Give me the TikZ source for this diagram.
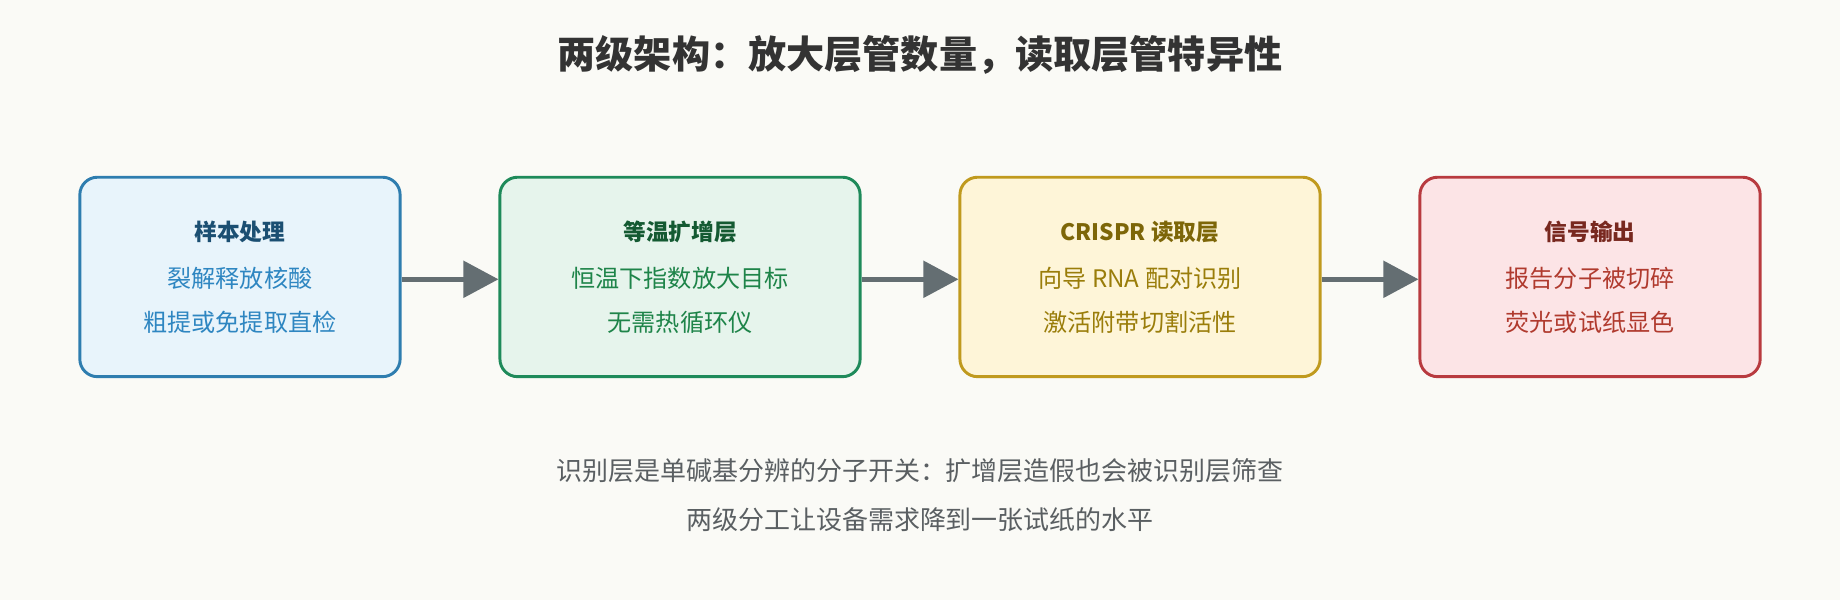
\documentclass[tikz,border=0pt]{standalone}
\usepackage{fontspec}
\setmainfont{Noto Sans CJK SC}
\usetikzlibrary{arrows.meta}
\definecolor{bgc}{HTML}{FAFAF6}
\definecolor{arrowc}{HTML}{646E72}
\definecolor{noteC}{HTML}{5A5F62}
\definecolor{prepD}{HTML}{2E7DAF}\definecolor{prepF}{HTML}{E8F4FB}\definecolor{prepT}{HTML}{2E86C1}\definecolor{prepH}{HTML}{1B4F72}
\definecolor{ampD}{HTML}{1E8A5A}\definecolor{ampF}{HTML}{E6F4EC}\definecolor{ampT}{HTML}{1E8449}\definecolor{ampH}{HTML}{145A32}
\definecolor{readD}{HTML}{C09A1E}\definecolor{readF}{HTML}{FEF5D8}\definecolor{readT}{HTML}{9A7D0A}\definecolor{readH}{HTML}{7D6608}
\definecolor{outD}{HTML}{B83A3F}\definecolor{outF}{HTML}{FCE4E6}\definecolor{outT}{HTML}{B03A2E}\definecolor{outH}{HTML}{78281F}
\tikzset{
  stage/.style={draw=#1D,fill=#1F,text=#1T,line width=0.05cm,rounded corners=0.3cm,
    minimum height=3.4cm,align=center,font=\fontsize{11.7}{21}\selectfont},
  flow/.style={draw=arrowc,line width=0.08cm,-{Triangle[length=0.6cm,width=0.62cm]}},
}
\begin{document}
\begin{tikzpicture}[x=0.02cm,y=-0.02cm]
    \fill[bgc] (0,0) rectangle (1568,511);
    \useasboundingbox (0,0) rectangle (1568,511);

    \node[font=\bfseries\fontsize{18.5}{24}\selectfont,text=black!80] (title) at (784,47) {两级架构：放大层管数量，读取层管特异性};

    \node[stage=prep,minimum width=5.46cm] (prep) at (204.5,236)
        {\textcolor{prepH}{\bfseries\fontsize{11}{21}\selectfont 样本处理}\\[2pt]裂解释放核酸\\粗提或免提取直检};
    \node[stage=amp,minimum width=6.14cm] (amp) at (579.5,236)
        {\textcolor{ampH}{\bfseries\fontsize{11}{21}\selectfont 等温扩增层}\\[2pt]恒温下指数放大目标\\无需热循环仪};
    \node[stage=read,minimum width=6.14cm] (read) at (971.5,236)
        {\textcolor{readH}{\bfseries\fontsize{11}{21}\selectfont CRISPR 读取层}\\[2pt]向导 RNA 配对识别\\激活附带切割活性};
    \node[stage=out,minimum width=5.8cm] (out) at (1355,236)
        {\textcolor{outH}{\bfseries\fontsize{11}{21}\selectfont 信号输出}\\[2pt]报告分子被切碎\\荧光或试纸显色};

    \draw[flow] (prep.east |- 0,238) -- (amp.west |- 0,238);
    \draw[flow] (amp.east |- 0,238) -- (read.west |- 0,238);
    \draw[flow] (read.east |- 0,238) -- (out.west |- 0,238);

    \node[text=noteC,font=\fontsize{12.6}{24}\selectfont,align=center] (note) at (784,422)
        {识别层是单碱基分辨的分子开关：扩增层造假也会被识别层筛查\\两级分工让设备需求降到一张试纸的水平};
\end{tikzpicture}
\end{document}
